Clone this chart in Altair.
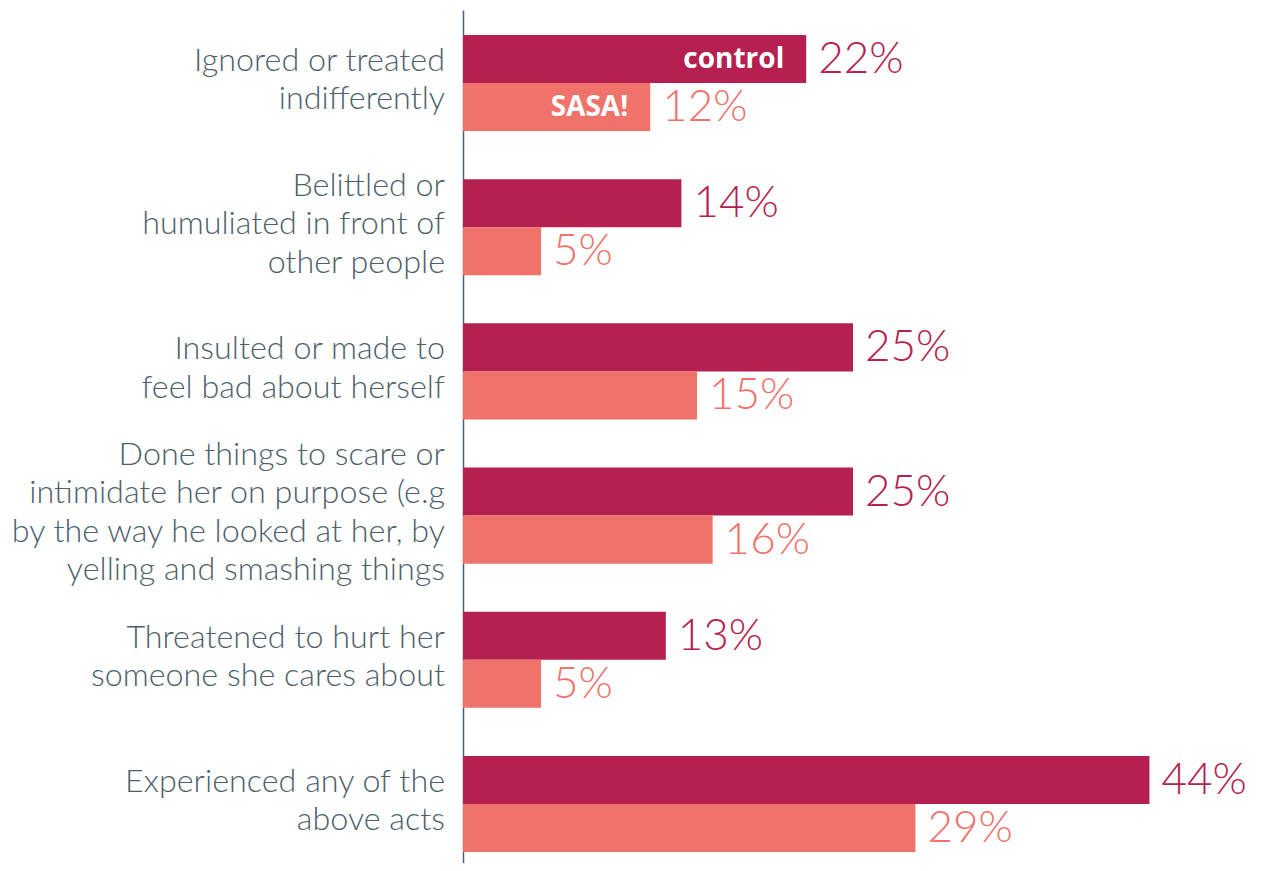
import altair as alt
import pandas as pd

categories = [
    "Ignored or treated\nindifferently",
    "Belittled or\nhumuliated in front of\nother people",
    "Insulted or made to\nfeel bad about herself",
    "Done things to scare or\nintimidate her on purpose (e.g\nby the way he looked at her, by\nyelling and smashing things",
    "Threatened to hurt her\nsomeone she cares about",
    "Experienced any of the\nabove acts",
]
control = [22, 14, 25, 25, 13, 44]
sasa = [12, 5, 15, 16, 5, 29]
series = ["control", "SASA!"]
colors = ["#B52050", "#EF736B"]

rows = []
for i, c in enumerate(categories):
    rows.append({"cat": c, "series": series[0], "value": control[i], "pct": f"{control[i]}%", "first": i == 0})
    rows.append({"cat": c, "series": series[1], "value": sasa[i], "pct": f"{sasa[i]}%", "first": i == 0})
df = pd.DataFrame(rows)
cat_df = pd.DataFrame({"cat": categories, "nlines": [c.count("\n") + 1 for c in categories]})

FONT = "Lato"
LH = 38.5
y_enc = alt.Y("cat:N", sort=categories,
              scale=alt.Scale(paddingInner=0.334, paddingOuter=0.173, range=[0, 867]),
              axis=alt.Axis(labels=False, ticks=False, title=None, domain=True,
                            domainColor="#4a6275", domainWidth=1.5))
yoff = alt.YOffset("series:N", sort=series, scale=alt.Scale(paddingInner=0, paddingOuter=0))
x_enc = alt.X("value:Q", scale=alt.Scale(domain=[0, 50.83]), axis=None)
col = alt.Color("series:N", sort=series, scale=alt.Scale(domain=series, range=colors), legend=None)

base = alt.Chart(df)
bars = base.mark_bar().encode(x=x_enc, y=y_enc, yOffset=yoff, color=col)
pct = base.mark_text(align="left", baseline="middle", dx=12, dy=1, fontSize=44,
                     font=FONT, fontWeight=300).encode(
    x=x_enc, y=y_enc, yOffset=yoff, color=col, text="pct:N")
inside = base.transform_filter("datum.first").mark_text(
    align="right", baseline="middle", dx=-22, dy=1, fontSize=28, font="Open Sans",
    fontWeight="bold", color="white").encode(
    x=x_enc, y=y_enc, yOffset=yoff, text="series:N")

cat_layers = []
for n in sorted(set(cat_df["nlines"])):
    cat_layers.append(
        alt.Chart(cat_df).transform_filter(f"datum.nlines == {n}").mark_text(
            align="right", baseline="middle", dx=-18, dy=-(n - 1) / 2 * LH - 3,
            fontSize=32.3, font=FONT, fontWeight=300, color="#4e5f6b",
            lineBreak="\n", lineHeight=LH).encode(
            x=alt.value(0), y=alt.Y("cat:N", sort=categories), text="cat:N")
    )

chart = alt.layer(bars, pct, inside, *cat_layers).properties(
    width=793, height=853,
    autosize=alt.AutoSizeParams(type="none"),
    padding={"left": 455, "top": 2, "right": 0, "bottom": 0},
).configure_view(stroke=None)

chart.save("out.html", embed_options={"renderer": "svg", "actions": False})
